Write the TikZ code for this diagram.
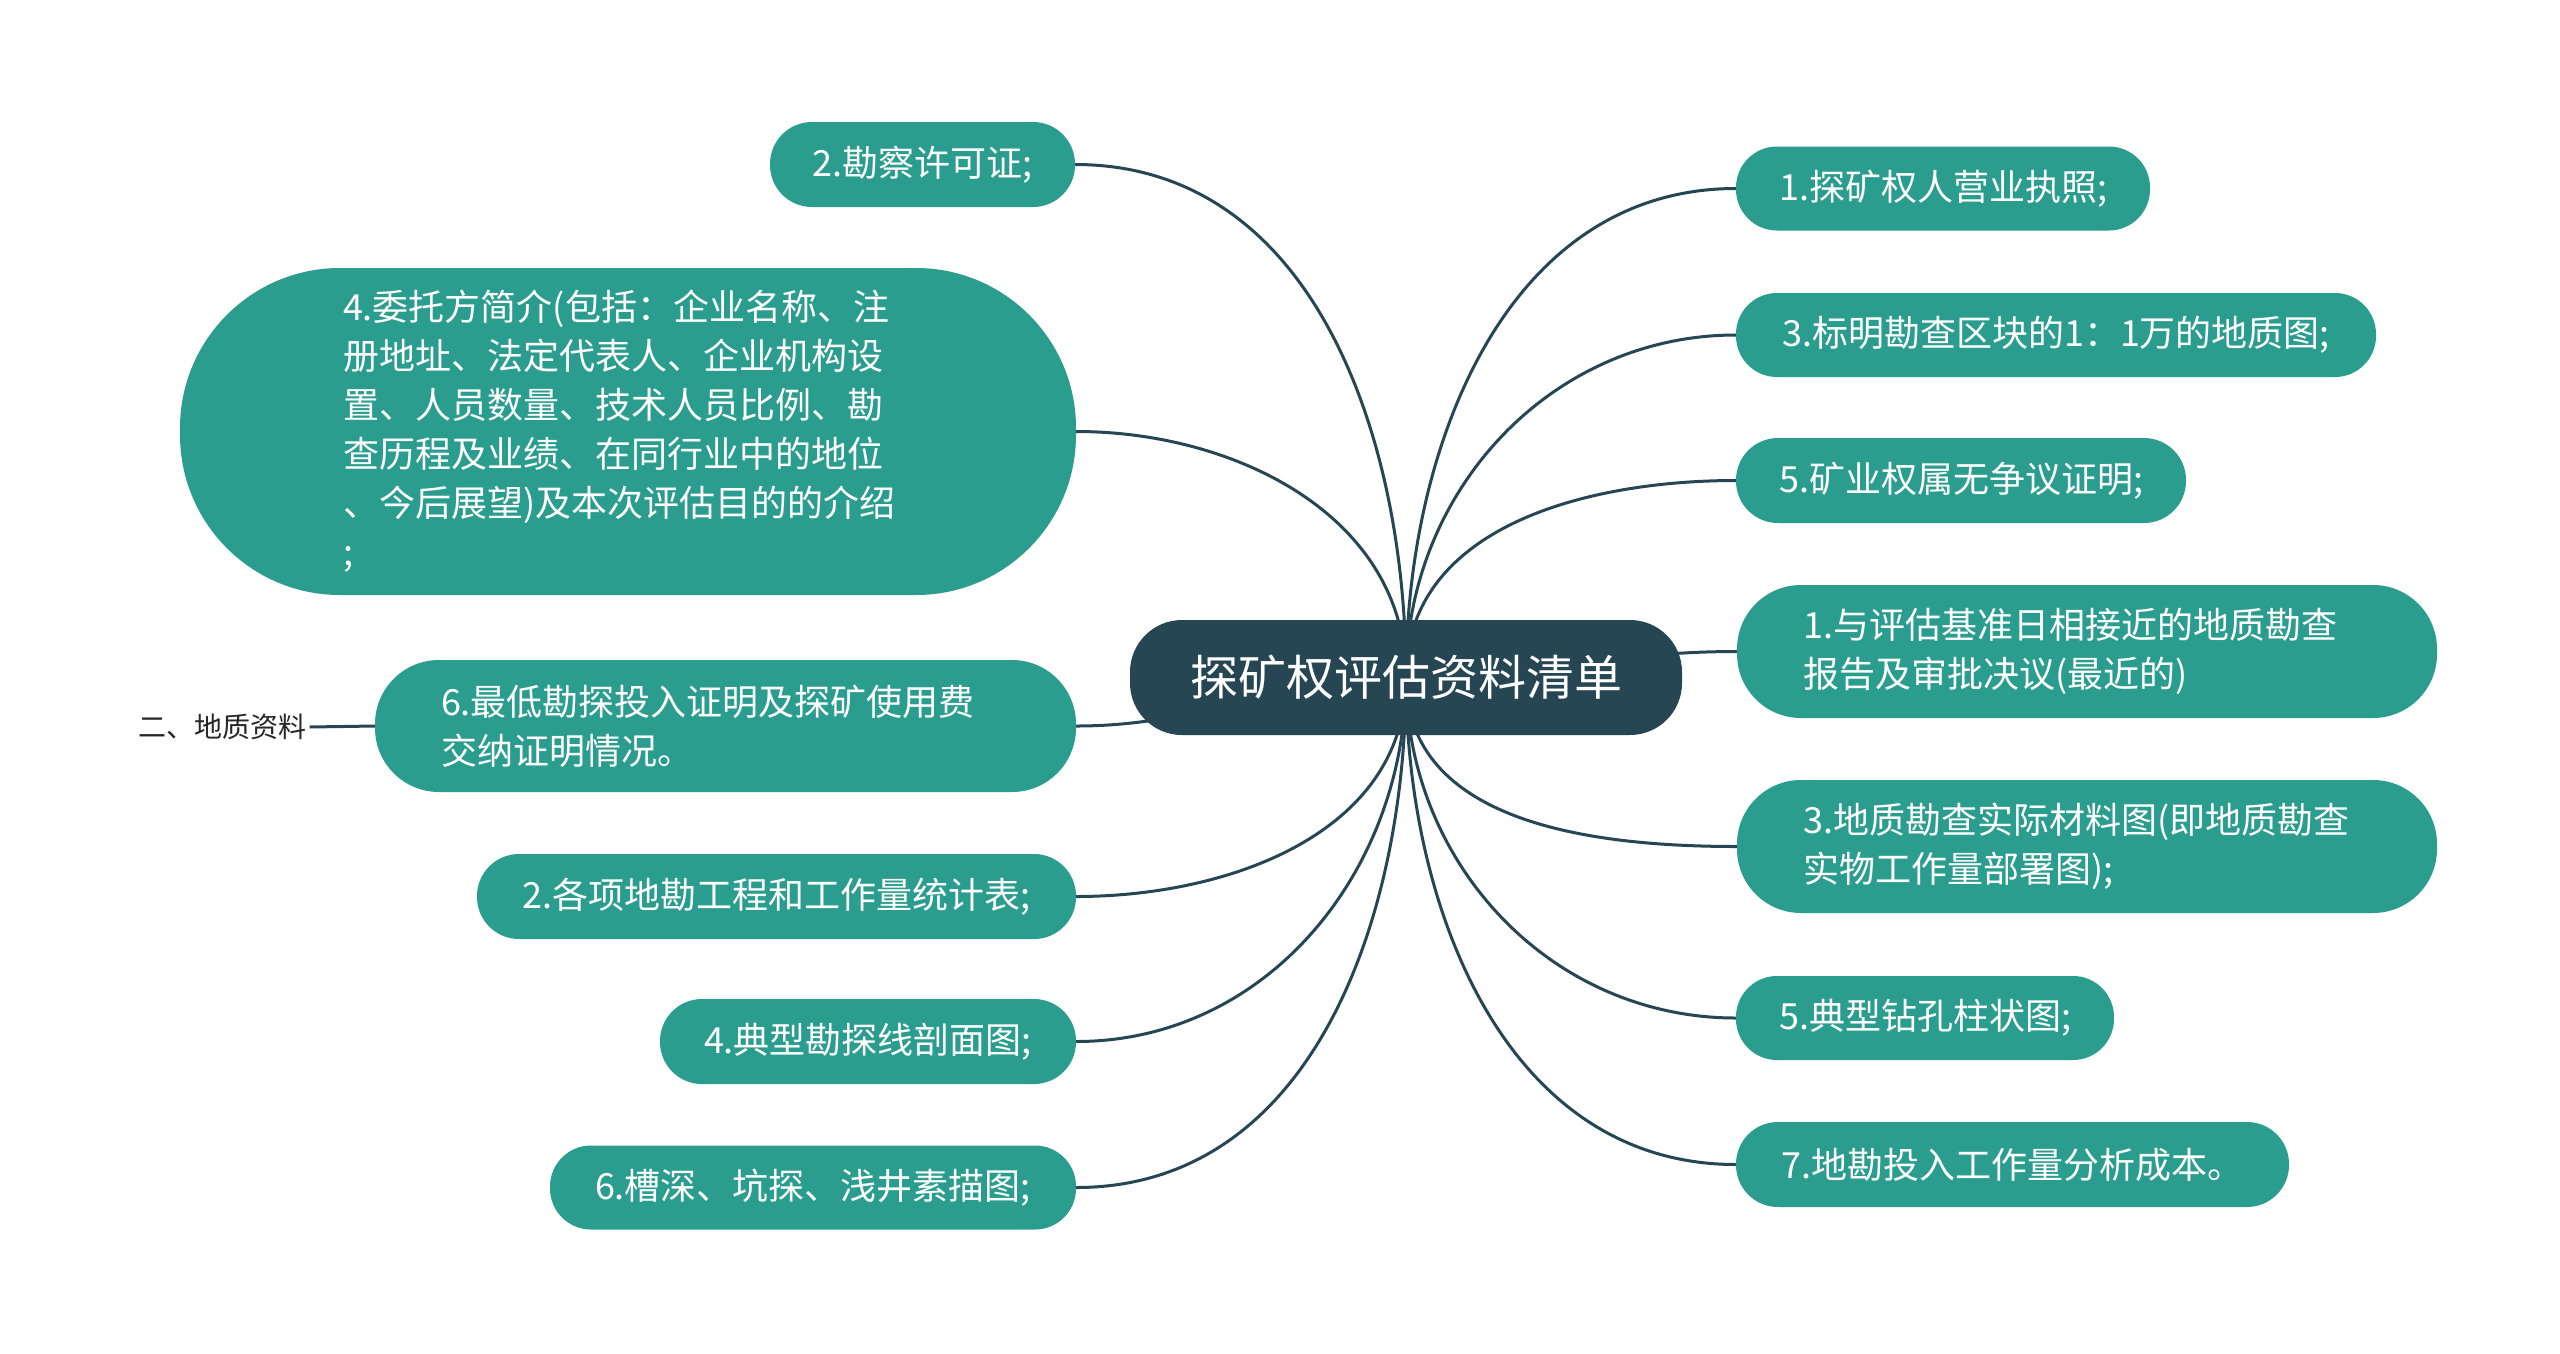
\documentclass[tikz,border=0pt]{standalone}
\usepackage{fontspec}
\setmainfont{Noto Sans CJK SC}
\usetikzlibrary{backgrounds}
\definecolor{teal1}{HTML}{2A9D8F}
\definecolor{dark1}{HTML}{264653}
\begin{document}
\begin{tikzpicture}[x=1pt,y=-1pt,
  topic/.style={fill=teal1,text=white,draw=none,inner sep=0pt,align=left,
    font=\fontsize{36}{49}\selectfont},
  multitopic/.style={topic,inner xsep=66pt,inner ysep=0pt},
  rootbox/.style={fill=dark1,text=white,draw=none,inner sep=0pt,
    font=\fontsize{48}{58}\selectfont},
  link/.style={draw=dark1,line width=3pt},
  labeltext/.style={text=black!85,font=\fontsize{28}{34}\selectfont},
]
\useasboundingbox (0,0) rectangle (2560,1353);

% root
\node[rootbox,minimum width=552pt,minimum height=115pt,rounded corners=52pt] (root) at (1406,677.5) {探矿权评估资料清单};

% left nodes
\node[topic,minimum width=305pt,minimum height=85pt,rounded corners=42pt] (L1) at (922.5,164.5) {2.勘察许可证;};
\node[multitopic,inner xsep=163pt,text width=570pt,minimum height=327pt,rounded corners=160pt] (L2) at (628,431.5)
  {4.委托方简介(包括：企业名称、注\\册地址、法定代表人、企业机构设\\置、人员数量、技术人员比例、勘\\查历程及业绩、在同行业中的地位\\、今后展望)及本次评估目的的介绍\\;};
\node[multitopic,text width=569pt,minimum height=132pt,rounded corners=64pt] (L3) at (725.5,726)
  {6.最低勘探投入证明及探矿使用费\\交纳证明情况。};
\node[topic,minimum width=599pt,minimum height=85pt,rounded corners=42pt] (L4) at (776.5,896.5) {2.各项地勘工程和工作量统计表;};
\node[topic,minimum width=416pt,minimum height=85pt,rounded corners=42pt] (L5) at (868,1041.5) {4.典型勘探线剖面图;};
\node[topic,minimum width=526pt,minimum height=84pt,rounded corners=41pt] (L6) at (813,1187.5) {6.槽深、坑探、浅井素描图;};

% right nodes
\node[topic,minimum width=414pt,minimum height=84pt,rounded corners=41pt] (R1) at (1943,188.5) {1.探矿权人营业执照;};
\node[topic,minimum width=640pt,minimum height=84pt,rounded corners=41pt] (R2) at (2056,335) {3.标明勘查区块的1：1万的地质图;};
\node[topic,minimum width=450pt,minimum height=85pt,rounded corners=42pt] (R3) at (1961,480.5) {5.矿业权属无争议证明;};
\node[multitopic,text width=568pt,minimum height=133pt,rounded corners=64pt] (R4) at (2087,651.5)
  {1.与评估基准日相接近的地质勘查\\报告及审批决议(最近的)};
\node[multitopic,text width=568pt,minimum height=133pt,rounded corners=64pt] (R5) at (2087,846.5)
  {3.地质勘查实际材料图(即地质勘查\\实物工作量部署图);};
\node[topic,minimum width=378pt,minimum height=84pt,rounded corners=41pt] (R6) at (1925,1018) {5.典型钻孔柱状图;};
\node[topic,minimum width=553pt,minimum height=85pt,rounded corners=42pt] (R7) at (2012.5,1164.5) {7.地勘投入工作量分析成本。};

% side label
\node[labeltext] (lab) at (222,727) {二、地质资料};

\begin{scope}[on background layer]
  \fill[white] (0,0) rectangle (2560,1353);
  \draw[link] (root.center) to[out=90,in=180] (R1.west);
  \draw[link] (root.center) to[out=90,in=180] (R2.west);
  \draw[link] (root.center) to[out=90,in=180] (R3.west);
  \draw[link] (root.center) to[out=0,in=180] (R4.west);
  \draw[link] (root.center) to[out=-90,in=180] (R5.west);
  \draw[link] (root.center) to[out=-90,in=180] (R6.west);
  \draw[link] (root.center) to[out=-90,in=180] (R7.west);
  \draw[link] (root.center) to[out=90,in=0] (L1.east);
  \draw[link] (root.center) to[out=90,in=0] (L2.east);
  \draw[link] (root.center) to[out=180,in=0] (L3.east);
  \draw[link] (root.center) to[out=-90,in=0] (L4.east);
  \draw[link] (root.center) to[out=-90,in=0] (L5.east);
  \draw[link] (root.center) to[out=-90,in=0] (L6.east);
  \draw[link] (lab.east) -- (L3.west);
\end{scope}
\end{tikzpicture}
\end{document}
